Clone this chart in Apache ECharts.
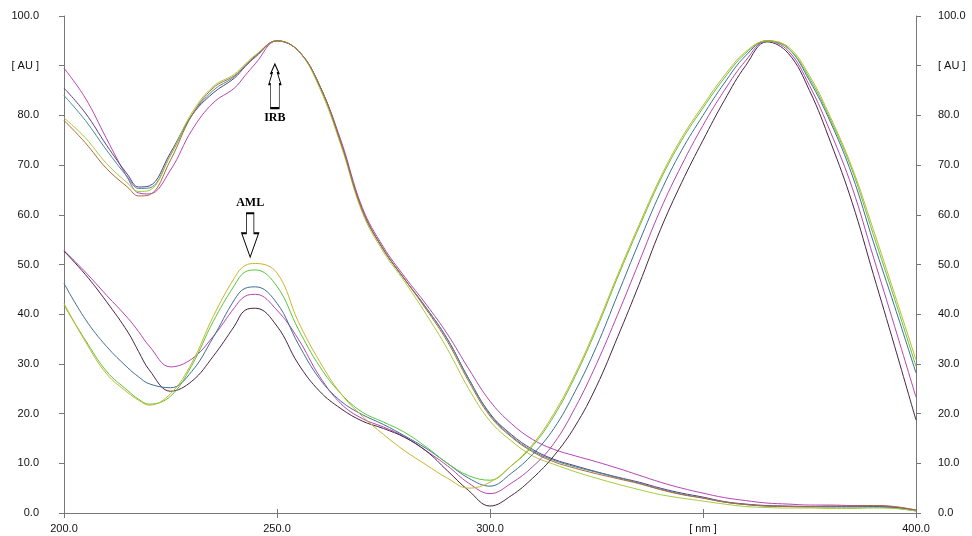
<!DOCTYPE html>
<html>
<head>
<meta charset="utf-8">
<script src="https://cdn.jsdelivr.net/npm/echarts@6/dist/echarts.min.js"></script>
<style>
  html, body { margin: 0; padding: 0; background: #fff; }
  #chart { width: 972px; height: 536px; }
</style>
</head>
<body>
<div id="chart"></div>
<script>
// wavelength grid (nm)
var wavelengths = [200,205,210,215,217.5,220,225,230,235,240,242.5,245,250,255,260,265,270,275,280,285,290,295,
  300,305,310,315,320,325,330,335,340,345,350,355,360,365,370,375,380,385,390,395,400];

// tick labels
var xTicks = [200, 250, 300, 350, 400];
var xTickLabels = ['200.0', '250.0', '300.0', '[ nm ]', '400.0'];
var yTicks = [0, 10, 20, 30, 40, 50, 60, 70, 80, 90, 100];
var yTickLabels = ['0.0', '10.0', '20.0', '30.0', '40.0', '50.0', '60.0', '70.0', '80.0', '[ AU ]', '100.0'];

// IRB spectra
var irbMagenta = [89.5,83.5,75.3,67.3,64.4,64.2,69,77,82.5,85.5,88,90.5, 95,93,86,75,61.5,53.5,47.5,42,36,29,
  22.5,18,14.8,12.8,11.5,10.3,9,7.6,6.2,5, 4,3.1,2.5,2,1.8,1.6,1.6,1.5,1.5,1.2, 0.6];
var irbPurple = [85.5,80.5,74,68,65.6,65.8,72.5,80,84.5,87.5,89.8,91.8, 95,93,86,74.5,61,53,47,41.3,35,27,
  20,15.8,12.8,10.8,9.5,8.3,7.2,6.2,5,4, 3.2,2.3,1.8,1.5,1.4,1.3,1.3,1.3,1.3,1.1, 0.5];
var irbTeal = [84,79,73,67.5,65.3,65.4,72,80,85,87.8,90,92, 95,93,86,74.5,61,53,47,41.3,35,27,
  19.8,15.5,12.5,10.6,9.3,8.2,7.1,6,4.8,3.8, 3,2.2,1.7,1.4,1.3,1.2,1.2,1.2,1.2,1, 0.4];
var irbGreen = [79.5,75.5,70.3,66.3,64.7,64.9,72,80.5,85.8,88.3,90.3,92.2, 95,93,85.5,74,60.5,52.5,46.5,40,33,25,
  18.5,14.5,11.5,9.8,8.3,7,5.8,4.7,3.7,3, 2.4,1.8,1.3,1.1,1,1,0.9,0.9,1,0.9, 0.4];
var irbBrown = [79,74.5,69.3,65.5,63.8,64,71,80,85.5,88,90,92, 95,93,86,74.5,61,53,47,41,34.5,26.5,
  19.5,15.3,12.3,10.3,9,7.9,6.9,5.9,4.7,3.7, 3,2.2,1.7,1.4,1.3,1.3,1.4,1.4,1.5,1.3, 0.6];

// AML spectra
var amlMagenta = [52.8,48.5,43.8,39.2,36.5,33.6,29.4,31,35.5,41.3,43.6,44, 40.8,35,27.5,22,19,17.3,15.3,12.5,9.5,6,
  3.9,6,9.3,14,21.2,30,40,50.5,61,70, 78,85,91,95,93,86,76.5,65.5,51.5,37.5, 23.3];
var amlPlum = [52.7,48,42.5,36.4,32.5,28.8,24.5,26.5,31.5,37.6,40.8,41.2, 37.6,30,24.5,21,18.5,17,15.2,12.5,8.5,4.5,
  1.4,3.5,7,11.5,17.5,25.5,35.5,46,57,66.5, 75,83,90,94.8,92.5,85,74.5,62.5,48,33.5, 18.7];
var amlSteel = [46.2,39,33.5,29.2,27.4,26,25.2,28.5,35.3,42.9,45.2,45.5, 42.2,34,27,22.5,19.8,17.8,15.5,13,10,7,
  5.4,8,11.8,17,24.5,33.5,44,54.5,64.5,73, 80,86.5,92,95,93.5,87,78.5,68,54.5,41.5, 28.2];
var amlGreen = [41.8,34.8,28.5,24.6,22.9,21.9,23.5,29.7,38.5,45.8,48.5,48.9, 45.6,37,29.5,24,20.3,18.3,16.2,13.3,10,7.5,
  6.6,9.5,13.5,19.5,27.5,37,47.5,57.5,67,75, 81.5,87.5,92.5,95,93.5,87.5,79,69,56,43, 29.5];
var amlYellow = [42.2,34.5,28,24.2,22.7,21.7,24,30.2,39.5,47.3,49.8,50.2, 48.3,38.5,30.5,24,19.5,15.8,12.5,9.7,7,5,
  6.2,9.5,13.8,20,28,37.5,48,58,67.5,75.5, 82,88,92.8,95,93.8,88,79.5,69.5,57,44, 30.8];

// annotation arrows: [nm, AU]
var irbArrow = [249.5, 85.9];
var amlArrow = [243.7, 55.9];

function pairs(vals) {
  return wavelengths.map(function (w, i) { return [w, vals[i]]; });
}

var spectra = [
  { name: 'IRB 1', data: irbMagenta, color: '#b545b5' },
  { name: 'IRB 2', data: irbPurple, color: '#5b3c8c' },
  { name: 'IRB 3', data: irbTeal, color: '#3f8f8c' },
  { name: 'IRB 4', data: irbGreen, color: '#a6cc3c' },
  { name: 'IRB 5', data: irbBrown, color: '#b0683c' },
  { name: 'AML 1', data: amlMagenta, color: '#b545b5' },
  { name: 'AML 2', data: amlPlum, color: '#4a2444' },
  { name: 'AML 3', data: amlSteel, color: '#3f6e94' },
  { name: 'AML 4', data: amlGreen, color: '#55c83c' },
  { name: 'AML 5', data: amlYellow, color: '#cbb52c' }
];

var arrowLabel = {
  show: true,
  color: '#000',
  fontFamily: 'Liberation Serif',
  fontWeight: 'bold',
  fontSize: 12
};

var series = spectra.map(function (s) {
  return {
    name: s.name,
    type: 'line',
    data: pairs(s.data),
    showSymbol: false,
    smooth: 0.4,
    lineStyle: { color: s.color, width: 1 },
    itemStyle: { color: s.color }
  };
});

series[0].markPoint = {
  silent: true,
  data: [
    {
      coord: irbArrow,
      symbol: 'path://M6,0 L8,9 L7.3,9 L9,20 L8.2,20 L8.2,44 L3.8,44 L3.8,20 L3,20 L4.7,9 L4,9 Z',
      symbolSize: [12, 44],
      itemStyle: { color: '#fff', borderColor: '#000', borderWidth: 1.2 },
      label: Object.assign({ formatter: 'IRB', position: 'bottom', distance: 3 }, arrowLabel)
    },
    {
      coord: amlArrow,
      symbol: 'path://M5.5,0 L12.5,0 L12.5,20 L17,20 L9,44 L1,20 L5.5,20 Z',
      symbolSize: [17, 44],
      itemStyle: { color: '#fff', borderColor: '#000', borderWidth: 1.2 },
      label: Object.assign({ formatter: 'AML', position: 'top', distance: 3 }, arrowLabel)
    }
  ]
};

var axisText = { color: '#111', fontFamily: 'Liberation Sans', fontSize: 11 };
var axisLineStyle = { show: true, lineStyle: { color: '#777', width: 1 } };

function lookup(ticks, labels) {
  return function (v) {
    var i = ticks.indexOf(Math.round(v));
    return i >= 0 ? labels[i] : '';
  };
}

var chart = echarts.init(document.getElementById('chart'));
chart.setOption({
  animation: false,
  backgroundColor: '#fff',
  grid: { left: 64, right: 56, top: 16, bottom: 23, outerBoundsMode: 'none' },
  xAxis: [
    {
      type: 'value', position: 'bottom', min: 200, max: 400, interval: 50,
      axisLine: axisLineStyle,
      axisTick: { show: true, length: 5, lineStyle: { color: '#777' } },
      axisLabel: Object.assign({ margin: 10, showMinLabel: true, showMaxLabel: true,
        formatter: lookup(xTicks, xTickLabels) }, axisText),
      splitLine: { show: false }
    },
    {
      type: 'value', position: 'top', min: 200, max: 400, interval: 50,
      axisLine: axisLineStyle,
      axisTick: { show: true, length: 4, lineStyle: { color: '#777' } },
      axisLabel: { show: false },
      splitLine: { show: false }
    }
  ],
  yAxis: [
    {
      type: 'value', position: 'left', min: 0, max: 100, interval: 10,
      axisLine: axisLineStyle,
      axisTick: { show: true, length: 5, lineStyle: { color: '#777' } },
      axisLabel: Object.assign({ margin: 25, formatter: lookup(yTicks, yTickLabels) }, axisText),
      splitLine: { show: false }
    },
    {
      type: 'value', position: 'right', min: 0, max: 100, interval: 10,
      axisLine: axisLineStyle,
      axisTick: { show: true, length: 5, lineStyle: { color: '#777' } },
      axisLabel: Object.assign({ margin: 22, formatter: lookup(yTicks, yTickLabels) }, axisText),
      splitLine: { show: false }
    }
  ],
  series: series
});
</script>
</body>
</html>
